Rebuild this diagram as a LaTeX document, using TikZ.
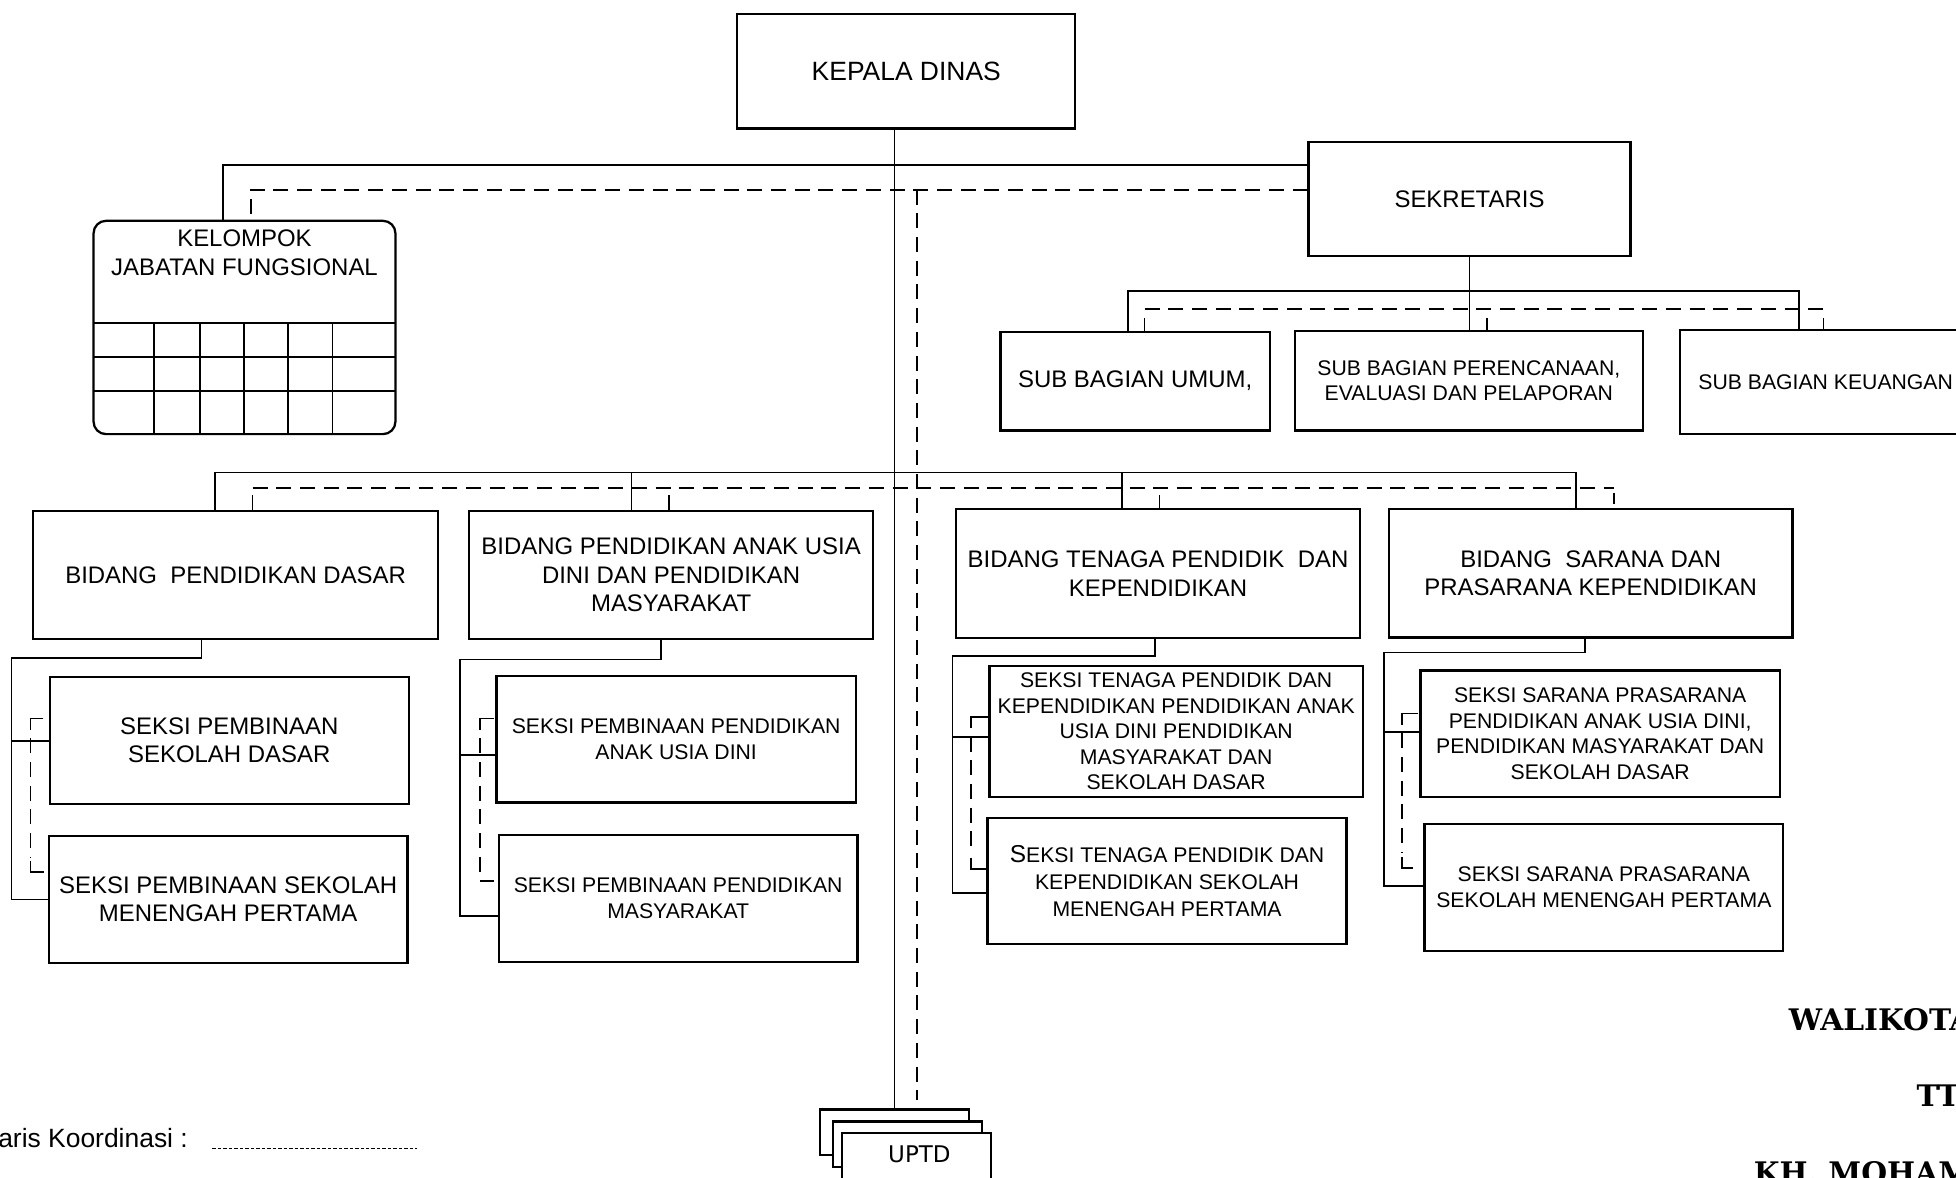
\documentclass[tikz,border=0pt]{standalone}
\usepackage{fontspec}
\setmainfont{Liberation Sans}
\newfontfamily\uptdfont{DejaVu Sans}
\newfontfamily\signfont{DejaVu Serif}
\usetikzlibrary{calc}
\begin{document}
\begin{tikzpicture}[x=0.5pt,y=-0.5pt,
  rect/.style args={#1/#2/#3/#4}{minimum width={(#3-#1)*0.5pt}, minimum height={(#4-#2)*0.5pt}, at={({(#1+#3)/2},{(#2+#4)/2})}},
  box/.style={draw, line width=0.9pt, inner sep=0pt, align=center, font=\fontsize{9.6}{11.4}\selectfont},
  sbox/.style={box, font=\fontsize{8.5}{10.5}\selectfont},
  ubox/.style={draw, fill=white, line width=0.9pt, inner sep=0pt},
  conn/.style={line width=0.7pt},
  coord/.style={line width=0.75pt, dash pattern=on 6pt off 3.5pt},
  sign/.style={font=\signfont\bfseries\fontsize{11.9}{14}\selectfont, inner sep=0pt, anchor=base west}
]
\useasboundingbox (0,0) rectangle (1568,944);

% ---------- top level ----------
\node[box, font=\fontsize{10.6}{12}\selectfont, rect=591/11/862/103] (kd) {KEPALA DINAS};
\node[box, rect=1049/114/1307/205] (sek) {SEKRETARIS};

% Kelompok jabatan fungsional
\node[draw, line width=0.9pt, rounded corners=5pt, inner sep=0pt, rect=75/177/317/348] (kjf) {};
\node[align=center, inner sep=0pt, font=\fontsize{9.6}{11.5}\selectfont] (kjft) at (196,202.5) {KELOMPOK\\JABATAN FUNGSIONAL};
\foreach \yy in {258.7,286,313.2} \draw[line width=0.9pt] (75,\yy) -- (317,\yy);
\foreach \xx in {123.7,160.3,195.7,231.1,266.6} \draw[line width=0.7pt] (\xx,258.7) -- (\xx,348);

% sub bagian
\node[box, rect=802/266/1018/345] (sbu) {SUB BAGIAN UMUM,};
\node[sbox, font=\fontsize{8.5}{10}\selectfont, rect=1038/265.5/1317/345] (sbp) {SUB BAGIAN PERENCANAAN,\\EVALUASI DAN PELAPORAN};
\node[sbox, rect=1347/264.6/1580/348.2] (sbk) {SUB BAGIAN KEUANGAN};

% bidang
\node[box, rect=26.7/409.4/351.1/512.5] (bpd) {BIDANG~ PENDIDIKAN DASAR};
\node[box, rect=376/409.4/700/512.5] (bpaud) {BIDANG PENDIDIKAN ANAK USIA\\DINI DAN PENDIDIKAN\\MASYARAKAT};
\node[box, rect=766.3/408.3/1090.3/511.2] (btp) {BIDANG TENAGA PENDIDIK~ DAN\\KEPENDIDIKAN};
\node[box, rect=1113.4/408/1436.9/511] (bsp) {BIDANG~ SARANA DAN\\PRASARANA KEPENDIDIKAN};

% seksi
\node[box, rect=40/542.5/327.6/644.3] (spsd) {SEKSI PEMBINAAN\\SEKOLAH DASAR};
\node[box, rect=39.1/670.2/326.7/771.7] (spsmp) {SEKSI PEMBINAAN SEKOLAH\\MENENGAH PERTAMA};
\node[sbox, rect=398/541.9/686.1/643.2] (sppaud) {SEKSI PEMBINAAN PENDIDIKAN\\ANAK USIA DINI};
\node[sbox, rect=399.9/669.4/687.4/771.2] (sppm) {SEKSI PEMBINAAN PENDIDIKAN\\MASYARAKAT};
\node[sbox, font=\fontsize{8.5}{10.2}\selectfont, rect=793.3/533.6/1092.4/638.9] (stp1) {SEKSI TENAGA PENDIDIK DAN\\KEPENDIDIKAN PENDIDIKAN ANAK\\USIA DINI PENDIDIKAN\\MASYARAKAT DAN\\SEKOLAH DASAR};
\node[sbox, font=\fontsize{8.5}{10.9}\selectfont, rect=791.7/655.5/1079.4/757] (stp2) {{\fontsize{9.8}{10.9}\selectfont S}EKSI TENAGA PENDIDIK DAN\\KEPENDIDIKAN SEKOLAH\\MENENGAH PERTAMA};
\node[sbox, font=\fontsize{8.5}{10.2}\selectfont, rect=1138.8/537.4/1426.7/638.9] (ss1) {SEKSI SARANA PRASARANA\\PENDIDIKAN ANAK USIA DINI,\\PENDIDIKAN MASYARAKAT DAN\\SEKOLAH DASAR};
\node[sbox, rect=1142/660.6/1429.4/762.1] (ss2) {SEKSI SARANA PRASARANA\\SEKOLAH MENENGAH PERTAMA};

% UPTD stack
\node[ubox, rect=657.4/889.3/776.8/926] (u1) {};
\node[ubox, rect=667.5/899/787/935.3] (u2) {};
\node[ubox, rect=674.7/908/794.2/960] (u3) {};
\node[font=\uptdfont\fontsize{9.2}{11}\selectfont, inner sep=0pt] (uptd) at (737,925.1) {UPTD};

% ---------- connectors ----------
\coordinate (sp) at (717,0);
\draw[conn] (kd.south -| sp) -- (u1.north -| sp);

\coordinate (t1) at (179,132);
\draw[conn] (sek.west |- t1) -- (t1) -- (t1 |- kjf.north);
\coordinate (t2) at (201,152);
\draw[coord] (sek.west |- t2) -- (t2) -- (t2 |- kjf.north);
\coordinate (t3) at (735,152);
\coordinate (t3e) at (735,882);
\draw[coord] (t3) -- (t3e);

% sekretaris to sub bagian
\draw[conn] (sek.south) -- (sek.south |- sbp.north);
\coordinate (s1) at (904,233);
\coordinate (s2) at (1442,233);
\draw[conn] (s1 |- sbu.north) -- (s1) -- (s2) -- (s2 |- sbk.north);
\coordinate (sd1) at (917.5,248);
\coordinate (sd2) at (1461.7,248);
\coordinate (sd3) at (1192.3,248);
\draw[coord] (sd1) -- (sd2);
\draw[conn] ($(sd1)+(0,7)$) -- (sd1 |- sbu.north);
\draw[conn] ($(sd3)+(0,7)$) -- (sd3 |- sbp.north);
\draw[conn] ($(sd2)+(0,7)$) -- (sd2 |- sbk.north);

% bidang row
\coordinate (b1) at (172.5,378.7);
\coordinate (b2) at (506.2,378.7);
\coordinate (b3) at (899.7,378.7);
\coordinate (b4) at (1263.6,378.7);
\draw[conn] (b1 |- bpd.north) -- (b1) -- (b4) -- (b4 |- bsp.north);
\draw[conn] (b2) -- (b2 |- bpaud.north);
\draw[conn] (b3) -- (b3 |- btp.north);
\coordinate (bd1) at (202.5,391);
\coordinate (bd2) at (536,391);
\coordinate (bd3) at (929.4,391);
\coordinate (bd4) at (1293.8,391);
\draw[coord] (bd1) -- (bd4);
\draw[conn] ($(bd1)+(0,6)$) -- (bd1 |- bpd.north);
\draw[conn] ($(bd2)+(0,6)$) -- (bd2 |- bpaud.north);
\draw[conn] ($(bd3)+(0,6)$) -- (bd3 |- btp.north);
\draw[conn] ($(bd4)+(0,4)$) -- ($(bd4 |- bsp.north)+(0,-3)$);

% group 1
\coordinate (g1a) at (161.5,527.2);
\coordinate (g1b) at (9.2,527.2);
\coordinate (g1c) at (9.2,721);
\coordinate (g1d) at (9.2,593.8);
\draw[conn] (bpd.south -| g1a) -- (g1a) -- (g1b) -- (g1c) -- (g1c -| spsmp.west);
\draw[conn] (g1d) -- (g1d -| spsd.west);
\coordinate (k1a) at (34.5,575.9);
\coordinate (k1b) at (24.4,575.9);
\coordinate (k1c) at (24.4,699.3);
\coordinate (k1d) at (35.4,699.3);
\draw[conn] (k1a) -- (k1b) -- ($(k1b)+(0,9)$);
\draw[coord] ($(k1b)+(0,16)$) -- ($(k1c)+(0,-12)$);
\draw[conn] ($(k1c)+(0,-9)$) -- (k1c) -- (k1d);

% group 2
\coordinate (g2a) at (529.6,528.6);
\coordinate (g2b) at (368.6,528.6);
\coordinate (g2c) at (368.6,734.3);
\coordinate (g2d) at (368.6,605);
\draw[conn] (bpaud.south -| g2a) -- (g2a) -- (g2b) -- (g2c) -- (g2c -| sppm.west);
\draw[conn] (g2d) -- (g2d -| sppaud.west);
\coordinate (k2a) at (395.7,575.9);
\coordinate (k2b) at (384.7,575.9);
\coordinate (k2c) at (384.7,706);
\coordinate (k2d) at (396,706);
\draw[conn] (k2a) -- (k2b) -- ($(k2b)+(0,9)$);
\draw[coord] ($(k2b)+(0,16)$) -- ($(k2c)+(0,-6)$);
\draw[conn] (k2c) -- (k2d);

% group 3
\coordinate (g3a) at (925.6,525.6);
\coordinate (g3b) at (763.6,525.6);
\coordinate (g3c) at (763.6,715.6);
\coordinate (g3d) at (763.6,590.6);
\draw[conn] (btp.south -| g3a) -- (g3a) -- (g3b) -- (g3c) -- (g3c -| stp2.west);
\draw[conn] (g3d) -- (g3d -| stp1.west);
\coordinate (k3a) at (791.7,574.5);
\coordinate (k3b) at (778.2,574.5);
\coordinate (k3c) at (778.2,696.4);
\coordinate (k3d) at (791,696.4);
\draw[conn] (k3a) -- (k3b) -- ($(k3b)+(0,9)$);
\draw[coord] ($(k3b)+(0,16)$) -- ($(k3c)+(0,-12)$);
\draw[conn] ($(k3c)+(0,-9)$) -- (k3c) -- (k3d);

% group 4
\coordinate (g4a) at (1270.6,523);
\coordinate (g4b) at (1109.2,523);
\coordinate (g4c) at (1109.2,710.3);
\coordinate (g4d) at (1109.2,586.6);
\draw[conn] (bsp.south -| g4a) -- (g4a) -- (g4b) -- (g4c) -- (g4c -| ss2.west);
\draw[conn] (g4d) -- (g4d -| ss1.west);
\coordinate (k4a) at (1137,571.9);
\coordinate (k4b) at (1123.7,571.9);
\coordinate (k4c) at (1123.7,696.1);
\coordinate (k4d) at (1133,696.1);
\draw[conn] (k4a) -- (k4b) -- ($(k4b)+(0,9)$);
\draw[coord] ($(k4b)+(0,16)$) -- ($(k4c)+(0,-12)$);
\draw[conn] ($(k4c)+(0,-9)$) -- (k4c) -- (k4d);

% ---------- legend ----------
\node[inner sep=0pt, anchor=base east, font=\fontsize{10.6}{12}\selectfont] (leg) at (151,919.8) {Garis Koordinasi :};
\coordinate (l1) at (170.2,920.6);
\coordinate (l2) at (334,920.6);
\draw[line width=0.45pt, dash pattern=on 1.4pt off 0.8pt] (l1) -- (l2);

% ---------- signature ----------
\node[sign] (wk) at (1433.6,825.7) {WALIKOTA};
\node[sign] (ttd) at (1536,887.2) {TT};
\node[sign] (kh) at (1405.6,948.7) {KH. MOHAM};
\end{tikzpicture}
\end{document}
